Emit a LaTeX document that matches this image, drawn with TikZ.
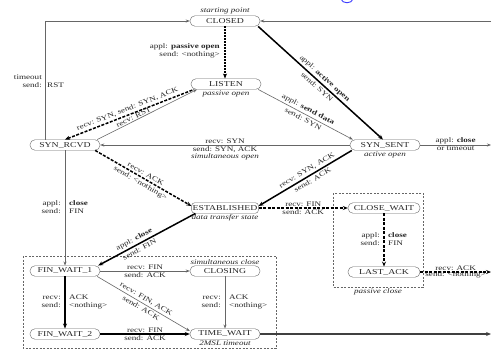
\documentclass[tikz,border=0pt]{standalone}
\usepackage{fontspec}
\setmainfont{Liberation Serif}[FakeStretch=1.3]
\usetikzlibrary{arrows.meta}
\tikzset{
  st/.style={draw=black!60, rounded corners=5pt, minimum width=70pt, minimum height=10.5pt,
    inner sep=1pt, font=\fontsize{7.5}{7.5}\selectfont, text=black!85, fill=white},
  lbl/.style={font=\fontsize{7}{7.5}\selectfont, inner sep=1pt, text=black!85, align=center},
  ital/.style={font=\fontsize{7}{7.5}\selectfont\itshape, inner sep=1pt, text=black!85},
  tline/.style={draw=black!60, line width=0.6pt, -{Stealth[length=4pt,width=3pt]}},
  thk/.style={draw=black, line width=1.5pt, -{Stealth[length=5pt,width=4pt]}},
  thkr/.style={draw=black, line width=1.5pt, {Stealth[length=5pt,width=4pt]}-},
  thkd/.style={thk, dash pattern=on 3pt off 1.5pt},
  thkdr/.style={thkr, dash pattern=on 3pt off 1.5pt},
  grpbox/.style={draw=black!60, dash pattern=on 2pt off 1.5pt, line width=0.6pt},
  up/.style={sloped, anchor=south, inner ysep=2pt},
  dn/.style={sloped, anchor=north, inner ysep=2pt},
}
\begin{document}
\begin{tikzpicture}[x=1pt,y=-1pt]
\useasboundingbox (0,0) rectangle (492,351);
\fill[white] (0,0) rectangle (492,351);
% partial blue glyph at top edge
\draw[blue!75, line width=0.9pt] (341,-1) .. controls (342,4) and (352,4) .. (353,-1);

% group boxes
\draw[grpbox] (23,256) rectangle (276,348);
\draw[grpbox] (333,193) rectangle (423,287);

% states
\node[st] (closed) at (225,21) {CLOSED};
\node[st] (listen) at (226,84) {LISTEN};
\node[st] (rcvd) at (65,145) {SYN\_RCVD};
\node[st] (sent) at (385,145) {SYN\_SENT};
\node[st, minimum width=66pt, rounded corners=3pt] (estab) at (225,208) {ESTABLISHED};
\node[st, minimum width=72pt] (cwait) at (384,208) {CLOSE\_WAIT};
\node[st, minimum width=72pt] (lack) at (384,272) {LAST\_ACK};
\node[st] (fw1) at (65,271) {FIN\_WAIT\_1};
\node[st] (closing) at (225,271) {CLOSING};
\node[st] (fw2) at (65,334) {FIN\_WAIT\_2};
\node[st] (tw) at (225,334) {TIME\_WAIT};

% state captions
\node[ital, above] at (closed.north) {starting point};
\node[ital, below] at (listen.south) {passive open};
\node[ital, below] at (sent.south) {active open};
\node[ital, below] at (estab.south) {data transfer state};
\node[ital, above] at (closing.north) {simultaneous close};
\node[ital, below] at (tw.south) {2MSL timeout};
\node[ital] at (378,292) {passive close};

% edge end points at the picture's right edge
\coordinate (rtop) at (491,21);
\coordinate (rmid) at (491,145);
\coordinate (rlow) at (491,272);
\coordinate (rbot) at (491,334);

% CLOSED -> LISTEN
\draw[thk, line width=2pt, dash pattern=on 2pt off 1pt] (closed.south) -- (closed.south |- listen.north);
\node[lbl, anchor=east, align=right] at (221,51) {appl: \textbf{passive open}\\send: <nothing>};

% SYN_RCVD -> CLOSED (timeout)
\draw[tline] ([xshift=-20pt]rcvd.north) |- (closed.west);
\node[lbl, anchor=east, align=right] at (43,81) {timeout\\send:};
\node[lbl, anchor=west] at (46,85) {RST};

% right edge -> CLOSED
\draw[tline] (rtop) -- (closed.east);

% LISTEN -> SYN_RCVD (drawn from the left end, tip at start)
\draw[thkdr] (rcvd.north) -- ([xshift=-32pt]listen.south)
  node[lbl, pos=0.5, up] {recv: SYN, send: SYN, ACK};
% SYN_RCVD -> LISTEN
\draw[tline] ([xshift=-3pt]rcvd.north east) -- ([xshift=-29pt]listen.south)
  node[lbl, pos=0.38, up, inner ysep=0.8pt] {recv: RST};

% LISTEN -> SYN_SENT
\draw[tline] ([xshift=-3pt]listen.south east) -- ([xshift=3pt]sent.north west)
  node[lbl, pos=0.5, up] {appl: \textbf{send data}}
  node[lbl, pos=0.5, dn] {send: SYN};

% CLOSED -> SYN_SENT
\draw[thk] ([xshift=-2pt]closed.south east) -- ([xshift=-2pt]sent.north)
  node[lbl, pos=0.5, up] {appl: \textbf{active open}}
  node[lbl, pos=0.5, dn] {send: SYN};

% SYN_SENT -> SYN_RCVD
\draw[tline] (sent.west) -- (rcvd.east)
  node[lbl, midway, above] {recv: SYN}
  node[lbl, midway, below] {send: SYN, ACK\\\textit{simultaneous open}};

% SYN_SENT -> right edge
\draw[tline] (sent.east) -- (rmid)
  node[lbl, midway, above] {appl: \textbf{close}}
  node[lbl, midway, below] {or timeout};

% SYN_RCVD -> ESTABLISHED
\draw[thkd] ([xshift=-5pt]rcvd.south east) -- ([yshift=2pt]estab.west)
  node[lbl, pos=0.5, up] {recv: ACK}
  node[lbl, pos=0.5, dn] {send: <nothing>};

% SYN_SENT -> ESTABLISHED (drawn from the left end, tip at start)
\draw[thkr] ([yshift=2pt]estab.east) -- ([xshift=2pt]sent.south west)
  node[lbl, pos=0.55, up] {recv: SYN, ACK}
  node[lbl, pos=0.55, dn] {send: ACK};

% ESTABLISHED -> CLOSE_WAIT
\draw[thkd] (estab.east) -- (cwait.west)
  node[lbl, midway, above] {recv: FIN}
  node[lbl, midway, below] {send: ACK};

% CLOSE_WAIT -> LAST_ACK
\draw[thkd] (cwait.south) -- (lack.north);
\node[lbl, anchor=east, align=right] at (381,239) {appl:\\send:};
\node[lbl, anchor=west, align=left] at (387,239) {\textbf{close}\\FIN};

% LAST_ACK -> right edge
\draw[thkd] (lack.east) -- (rlow)
  node[lbl, midway, above] {recv: ACK}
  node[lbl, midway, below, yshift=2pt] {send: <nothing>};

% ESTABLISHED -> FIN_WAIT_1 (drawn from the left end, tip at start)
\draw[thkr] ([xshift=-2pt]fw1.north east) -- ([xshift=4pt]estab.south west)
  node[lbl, pos=0.4, up] {appl: \textbf{close}}
  node[lbl, pos=0.4, dn] {send: FIN};

% SYN_RCVD -> FIN_WAIT_1
\draw[tline] (rcvd.south) -- (fw1.north);
\node[lbl, anchor=east, align=right] at (62,207) {appl:\\send:};
\node[lbl, anchor=west, align=left] at (68,207) {\textbf{close}\\FIN};

% FIN_WAIT_1 -> CLOSING
\draw[tline] (fw1.east) -- (closing.west)
  node[lbl, midway, above] {recv: FIN}
  node[lbl, midway, below] {send: ACK};

% FIN_WAIT_1 -> FIN_WAIT_2
\draw[thk] (fw1.south) -- (fw2.north);
\node[lbl, anchor=east, align=right] at (62,302) {recv:\\send:};
\node[lbl, anchor=west, align=left] at (68,302) {ACK\\<nothing>};

% FIN_WAIT_1 -> TIME_WAIT
\draw[tline] ([xshift=-3pt]fw1.south east) -- ([yshift=3pt]tw.west)
  node[lbl, pos=0.5, up] {recv: FIN, ACK}
  node[lbl, pos=0.5, dn] {send: ACK};

% CLOSING -> TIME_WAIT
\draw[tline] (closing.south) -- (tw.north);
\node[lbl, anchor=east, align=right] at (222,302) {recv:\\send:};
\node[lbl, anchor=west, align=left] at (228,302) {ACK\\<nothing>};

% FIN_WAIT_2 -> TIME_WAIT
\draw[thk] (fw2.east) -- (tw.west)
  node[lbl, midway, above] {recv: FIN}
  node[lbl, midway, below] {send: ACK};

% TIME_WAIT -> right edge
\draw[thk, draw=black!75] (tw.east) -- (rbot);
\end{tikzpicture}
\end{document}
